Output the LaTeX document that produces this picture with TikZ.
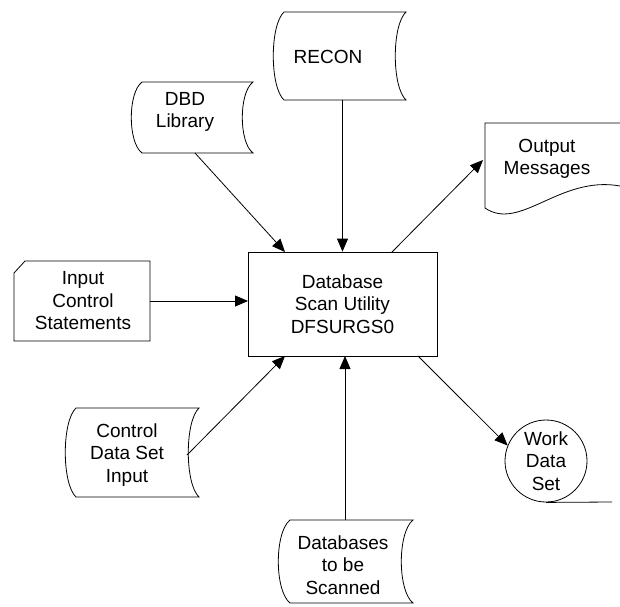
\documentclass[tikz,border=0pt]{standalone}
\usepackage{fontspec}
\setmainfont{Liberation Sans}
\usetikzlibrary{arrows.meta}
\newcommand{\storedshape}[5]{% x1 x2 y1 y2 bulge
  \draw (#1,#3) -- (#2,#3)
    .. controls ({#2-1.3*#5},{#3+0.15*(#4-#3)}) and ({#2-1.3*#5},{#4-0.15*(#4-#3)}) .. (#2,#4)
    -- (#1,#4)
    .. controls ({#1-1.3*#5},{#4-0.15*(#4-#3)}) and ({#1-1.3*#5},{#3+0.15*(#4-#3)}) .. cycle;}
\begin{document}
\begin{tikzpicture}[x=1pt,y=-1pt,line width=0.8pt,
  lbl/.style={align=center,font=\fontsize{19}{22.5}\selectfont,inner sep=0pt},
  arr/.style={-{Triangle[length=13pt,width=11pt]}}]
\useasboundingbox (0,0) rectangle (620,606);

% central utility box
\node[draw,lbl,minimum width=189pt,minimum height=104pt] (scan) at (342.5,304)
  {Database\\Scan Utility\\DFSURGS0};

% RECON
\storedshape{284}{406}{12}{100}{11}
\node[lbl] (recon) at (328,57) {RECON};

% DBD Library
\storedshape{142}{253}{82}{153}{11}
\node[lbl] (dbd) at (185,112) {DBD\\Library};

% Output Messages (document)
\draw (620,123) -- (485,123) -- (485,208)
  .. controls (520,232) and (560,175) .. (620,186);
\node[lbl] (outmsg) at (547,159) {Output\\Messages};

% Input Control Statements (card)
\draw (14,273) -- (25,261) -- (150,261) -- (150,341) -- (14,341) -- cycle;
\node[lbl] (input) at (83,301) {Input\\Control\\Statements};

% Control Data Set Input
\storedshape{76}{199}{408}{497}{11}
\node[lbl] (ctrl) at (127,455) {Control\\Data Set\\Input};

% Databases to be Scanned
\storedshape{290}{413}{520}{603}{12}
\node[lbl] (dbs) at (343,565) {Databases\\to be\\Scanned};

% Work Data Set
\node[draw,circle,lbl,minimum size=82pt] (work) at (546,461) {Work\\Data\\Set};
\coordinate (workend) at (612,502);
\draw (work.south) -- (workend);

% connector end points
\coordinate (reconB) at (342.5,100);
\coordinate (dbdB) at (195,153);
\coordinate (scanTL) at (285,252);
\coordinate (scanTR) at (392,252);
\coordinate (outL) at (483,160);
\coordinate (inR) at (150,301);
\coordinate (scanL) at (248,301);
\coordinate (ctrlR) at (187,455);
\coordinate (scanBL) at (285,356);
\coordinate (dbsT) at (345,520);
\coordinate (scanB) at (345,356);
\coordinate (scanBR) at (418,356);

\draw[arr] (reconB) -- (scan.north);
\draw[arr] (dbdB) -- (scanTL);
\draw[arr] (scanTR) -- (outL);
\draw[arr] (inR) -- (scanL);
\draw[arr] (ctrlR) -- (scanBL);
\draw[arr] (dbsT) -- (scanB);
\draw[arr] (scanBR) -- (work.158);
\end{tikzpicture}
\end{document}
